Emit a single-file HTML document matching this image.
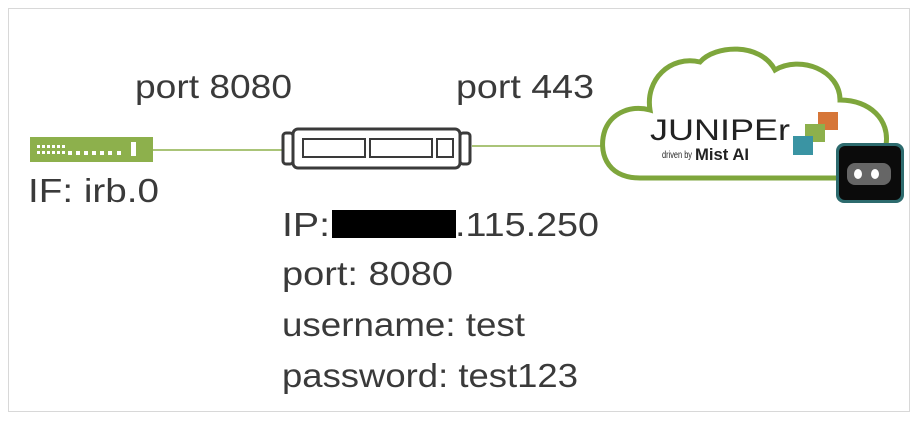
<!DOCTYPE html>
<html><head><style>body{margin:0;background:#fff}svg{display:block}</style></head><body>
<svg width="918" height="424" viewBox="0 0 918 424" xmlns="http://www.w3.org/2000/svg" font-family="Liberation Sans, sans-serif" fill="#3a3a3a">
<rect x="8.5" y="8.5" width="901" height="403" fill="#fff" stroke="#d8d8d8"/>
<!-- switch -->
<rect x="30" y="137" width="123" height="25" fill="#8db04c"/>
<g fill="#fff">
<rect x="37" y="145" width="3" height="3"/><rect x="42" y="145" width="3" height="3"/><rect x="47" y="145" width="3" height="3"/><rect x="52" y="145" width="3" height="3"/><rect x="57" y="145" width="3" height="3"/><rect x="62" y="145" width="3" height="3"/>
<rect x="37" y="151" width="3" height="3"/><rect x="42" y="151" width="3" height="3"/><rect x="47" y="151" width="3" height="3"/><rect x="52" y="151" width="3" height="3"/><rect x="57" y="151" width="3" height="3"/><rect x="62" y="151" width="3" height="3"/>
<rect x="68" y="151" width="4" height="4"/><rect x="76" y="151" width="4" height="4"/><rect x="84" y="151" width="4" height="4"/><rect x="92" y="151" width="4" height="4"/><rect x="100" y="151" width="4" height="4"/><rect x="108" y="151" width="4" height="4"/><rect x="117" y="151" width="4" height="4"/>
<rect x="131" y="142" width="5" height="14"/>
</g>
<line x1="153" y1="150" x2="283" y2="150" stroke="#8db04c" stroke-width="1.5"/>
<!-- router -->
<g fill="none" stroke="#3a3a3a" stroke-width="3">
<rect x="283" y="133" width="10" height="31" rx="3"/>
<rect x="460" y="133" width="10" height="31" rx="3"/>
<rect x="293" y="129" width="167" height="39" rx="5"/>
<rect x="303" y="139" width="62" height="18" stroke-width="2"/>
<rect x="370" y="139" width="62" height="18" stroke-width="2"/>
<rect x="437" y="139" width="16" height="18" stroke-width="2"/>
</g>
<line x1="472" y1="146" x2="602" y2="146" stroke="#8db04c" stroke-width="1.5"/>
<!-- cloud -->
<path d="M640 178 C605 178 598 150 605 130 C612 112 632 105 650 110 C645 80 670 55 700 62 C715 45 760 42 775 70 C800 55 840 70 840 100 C870 100 890 120 886 145 C884 165 870 178 850 178 Z" fill="#fff" stroke="#7ea63c" stroke-width="5"/>
<text x="650" y="140" font-size="30" fill="#222" textLength="140" lengthAdjust="spacingAndGlyphs">JUNIPEr</text>
<text x="662" y="158" font-size="10" fill="#222" textLength="30" lengthAdjust="spacingAndGlyphs">driven by</text>
<text x="695" y="160" font-size="17" font-weight="bold" fill="#222" textLength="54" lengthAdjust="spacingAndGlyphs">Mist AI</text>
<rect x="818" y="112" width="20" height="18" fill="#d67638"/>
<rect x="805" y="124" width="20" height="18" fill="#8db04c"/>
<rect x="793" y="136" width="20" height="19" fill="#3a94a3"/>
<!-- robot -->
<rect x="836" y="143" width="68" height="60" rx="8" fill="#2d6b6e"/>
<rect x="839" y="146" width="62" height="54" rx="6" fill="#0b0b0b"/>
<rect x="847" y="163" width="44" height="22" rx="8" fill="#666"/>
<ellipse cx="858" cy="174" rx="4" ry="5" fill="#fff"/>
<ellipse cx="875" cy="174" rx="4" ry="5" fill="#fff"/>
<!-- labels -->
<g font-size="33">
<text x="135" y="98" textLength="157" lengthAdjust="spacingAndGlyphs">port 8080</text>
<text x="456" y="98" textLength="138" lengthAdjust="spacingAndGlyphs">port 443</text>
<text x="28" y="202" textLength="131" lengthAdjust="spacingAndGlyphs">IF: irb.0</text>
<text x="282" y="236" textLength="48" lengthAdjust="spacingAndGlyphs">IP:</text>
<rect x="332" y="210" width="124" height="28" fill="#000"/>
<text x="455" y="236" textLength="144" lengthAdjust="spacingAndGlyphs">.115.250</text>
<text x="282" y="285" textLength="171" lengthAdjust="spacingAndGlyphs">port: 8080</text>
<text x="282" y="336" textLength="243" lengthAdjust="spacingAndGlyphs">username: test</text>
<text x="282" y="387" textLength="296" lengthAdjust="spacingAndGlyphs">password: test123</text>
</g>
</svg>
</body></html>
